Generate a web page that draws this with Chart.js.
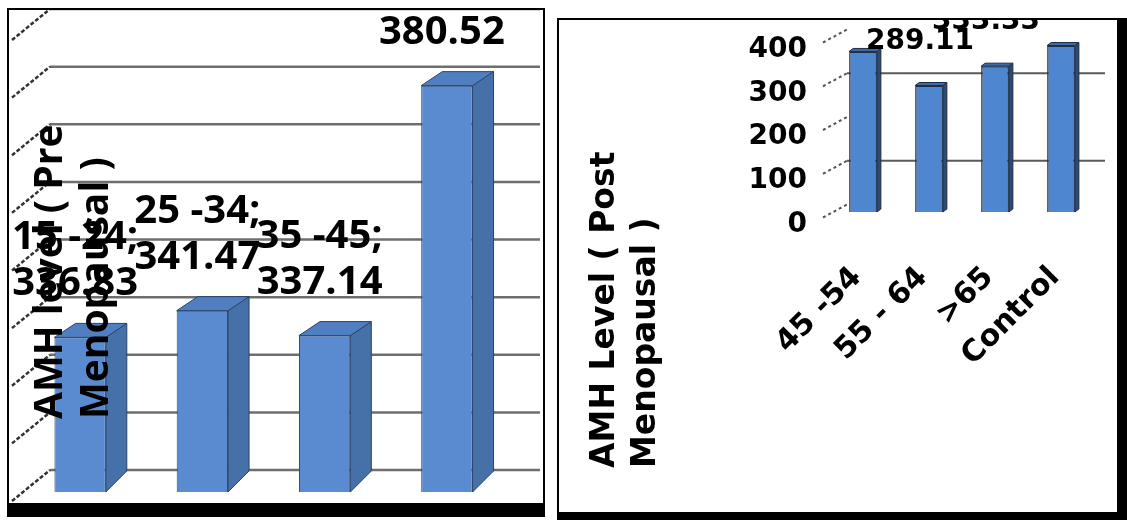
<!DOCTYPE html>
<html>
<head>
<meta charset="utf-8">
<script src="https://cdn.jsdelivr.net/npm/chart.js@4/dist/chart.umd.min.js"></script>
<style>
html, body { margin: 0; padding: 0; background: #fff; overflow: hidden; width: 1127px; height: 520px; }
.panel { position: absolute; border: 2px solid #000; background: #fff; }
#pre { left: 7px; top: 8px; width: 534px; height: 493px; border-bottom-width: 14px; }
#post { left: 557px; top: 18px; width: 558px; height: 492px; border-right-width: 10px; border-bottom-width: 10px; }
canvas { display: block; }
</style>
</head>
<body>
<div class="panel" id="pre"><canvas id="preChart" width="534" height="493"></canvas></div>
<div class="panel" id="post"><canvas id="postChart" width="558" height="492"></canvas></div>
<script>
// pre menopausal groups (left panel)
const preAges = ['15 -24', '25 -34', '35 -45', 'Control'];
const preAmh = [336.83, 341.47, 337.14, 380.52];
const preMin = 310, preMax = 390, preStep = 10;

// post menopausal groups (right panel), first bar
const postAges = ['45 -54', '55 - 64', '>65', 'Control'];
const postAmh = [367, 289.11, 333.33, 380.52];
const postMin = 0, postMax = 400, postStep = 100;

// fake 3D: back wall grid, depth dashes, side/top faces, labels and axis title
const depth = {
  id: 'depth',
  beforeDatasetsDraw(chart, args, o) {
    const ctx = chart.ctx, y = chart.scales.y;
    ctx.save();
    y.ticks.forEach(t => {
      const yb = y.getPixelForValue(t.value) + o.gridDy;
      if (!o.gridAt || o.gridAt.includes(t.value)) {
        ctx.strokeStyle = o.gridColor;
        ctx.lineWidth = o.gridWidth;
        ctx.setLineDash([]);
        ctx.beginPath();
        ctx.moveTo(o.gridX0, yb);
        ctx.lineTo(o.gridX1, yb);
        ctx.stroke();
      }
      ctx.strokeStyle = o.wallColor;
      ctx.lineWidth = o.wallWidth;
      ctx.setLineDash(o.wallDash);
      ctx.beginPath();
      ctx.moveTo(o.wallX, yb + o.wallDy);
      ctx.lineTo(o.gridX0, yb);
      ctx.stroke();
    });
    ctx.restore();
  },
  afterDatasetsDraw(chart, args, o) {
    const ctx = chart.ctx, area = chart.chartArea;
    ctx.save();
    ctx.lineWidth = 1;
    ctx.strokeStyle = o.edge;
    chart.getDatasetMeta(0).data.forEach(bar => {
      const l = bar.x - bar.width / 2, r = bar.x + bar.width / 2;
      const top = bar.y, bot = Math.min(bar.base, area.bottom);
      ctx.fillStyle = o.side;
      ctx.beginPath();
      ctx.moveTo(r, top);
      ctx.lineTo(r + o.dx, top - o.dyTop);
      ctx.lineTo(r + o.dx, bot - o.dyBot);
      ctx.lineTo(r, bot);
      ctx.closePath();
      ctx.fill();
      ctx.stroke();
      ctx.fillStyle = o.cap;
      ctx.beginPath();
      ctx.moveTo(l, top);
      ctx.lineTo(l + o.dx, top - o.dyTop);
      ctx.lineTo(r + o.dx, top - o.dyTop);
      ctx.lineTo(r, top);
      ctx.closePath();
      ctx.fill();
      ctx.stroke();
    });
    ctx.restore();
  },
  afterDraw(chart, args, o) {
    const ctx = chart.ctx;
    const vals = chart.data.datasets[0].data;
    ctx.save();
    ctx.fillStyle = '#000';
    ctx.font = o.labelFont;
    ctx.textAlign = 'center';
    ctx.textBaseline = 'alphabetic';
    chart.getDatasetMeta(0).data.forEach((bar, i) => {
      const lines = [chart.data.labels[i] + ';', vals[i].toFixed(2)];
      lines.forEach((s, k) => {
        ctx.fillText(s, bar.x + o.labelDx, bar.y - o.labelGap - (lines.length - 1 - k) * o.labelLine);
      });
    });
    ctx.translate(o.titleX, o.titleY);
    ctx.rotate(-Math.PI / 2);
    ctx.font = o.titleFont;
    ctx.textAlign = 'left';
    o.title.forEach((s, k) => ctx.fillText(s, 0, k * o.titleLine));
    ctx.restore();
  }
};

Chart.defaults.animation = false;
Chart.defaults.plugins.legend.display = false;
Chart.defaults.plugins.tooltip.enabled = false;

new Chart(document.getElementById('preChart'), {
  type: 'bar',
  data: {
    labels: preAges,
    datasets: [{
      data: preAmh,
      backgroundColor: '#5a8bd0',
      borderColor: '#2a4468',
      borderWidth: 1,
      barPercentage: 0.42,
      categoryPercentage: 1
    }]
  },
  options: {
    responsive: false,
    devicePixelRatio: 1,
    layout: { padding: { left: 10, right: 35, top: 21, bottom: 11 } },
    scales: {
      x: { display: false },
      y: { display: false, min: preMin, max: preMax, ticks: { stepSize: preStep } }
    },
    plugins: {
      depth: {
        gridDy: -22, gridX0: 41, gridX1: 531, gridColor: '#6e6e6e', gridWidth: 2.5,
        wallX: 3, wallDy: 31, wallColor: '#333', wallWidth: 2.5, wallDash: [4, 2],
        dx: 21, dyTop: 14, dyBot: 21, side: '#4570a8', cap: '#4f7fc0', edge: '#2a4468',
        labelFont: '700 40px "Open Sans"', labelGap: 42, labelLine: 46, labelDx: -5,
        title: ['AMH level ( Pre', 'Menopausal )'], titleFont: '700 39px "Open Sans"',
        titleX: 53, titleY: 409, titleLine: 46
      }
    }
  },
  plugins: [depth]
});

const tickFont = { family: 'DejaVu Sans', weight: 'bold', size: 28 };

new Chart(document.getElementById('postChart'), {
  type: 'bar',
  data: {
    labels: postAges,
    datasets: [{
      data: postAmh,
      backgroundColor: '#4f86d0',
      borderColor: '#1e2e44',
      borderWidth: 1.5,
      barPercentage: 0.42,
      categoryPercentage: 1
    }]
  },
  options: {
    responsive: false,
    devicePixelRatio: 1,
    layout: { padding: { left: 151, right: 23, top: 17, bottom: 10 } },
    scales: {
      x: {
        grid: { display: false, drawTicks: false },
        border: { display: false },
        ticks: {
          color: '#000', font: { family: 'DejaVu Sans', weight: 'bold', size: 30 },
          minRotation: 45, maxRotation: 45, padding: 48, labelOffset: -6, autoSkip: false
        },
        afterFit(s) { s.height = 290; s.paddingLeft = 0; s.paddingRight = 0; }
      },
      y: {
        min: postMin, max: postMax,
        grid: { display: false, drawTicks: false },
        border: { display: false },
        ticks: { color: '#000', font: tickFont, stepSize: postStep, padding: 23, labelOffset: 12.5 },
        afterFit(s) { s.width = 120; s.paddingTop = 0; s.paddingBottom = 0; }
      }
    },
    plugins: {
      depth: {
        gridDy: -7.5, gridX0: 288, gridX1: 546, gridAt: [100, 300], gridColor: '#5a5a5a', gridWidth: 2,
        wallX: 264, wallDy: 13, wallColor: '#555', wallWidth: 2, wallDash: [3, 3],
        dx: 4, dyTop: 3, dyBot: 3, side: '#2d4a72', cap: '#3d6aa8', edge: '#1e2e44',
        labelFont: '700 28px "DejaVu Sans"', labelGap: 37, labelLine: 34, labelDx: -9,
        title: ['AMH Level ( Post', 'Menopausal )'], titleFont: '700 33px "DejaVu Sans"',
        titleX: 55, titleY: 448, titleLine: 41
      }
    }
  },
  plugins: [depth]
});
</script>
</body>
</html>
